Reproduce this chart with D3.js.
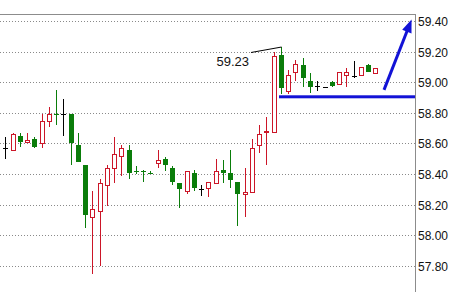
<!DOCTYPE html>
<html><head><meta charset="utf-8">
<script src="https://cdn.jsdelivr.net/npm/d3@7"></script>
<style>
html,body{margin:0;padding:0;background:#fff;}
svg{display:block;}
</style></head>
<body>
<svg id="c" width="456" height="292"></svg>
<script>
// OHLC data (one entry per candle, left to right)
const opens  = [58.57,58.56,58.65,58.61,58.63,58.60,58.75,58.79,58.79,58.79,58.59,58.46,58.12,58.16,58.33,58.44,58.52,58.56,58.42,58.42,58.41,58.47,58.50,58.44,58.34,58.29,58.41,58.30,58.31,58.34,58.43,58.41,58.35,58.27,58.28,58.59,58.675,58.675,59.18,58.94,59.07,59.11,59.01,58.975,58.97,59.00,58.99,59.05,59.04,59.05,59.11,59.06];
const closes = [58.57,58.66,58.61,58.62,58.58,58.75,58.79,58.788,58.79,58.60,58.48,58.13,58.17,58.34,58.44,58.53,58.57,58.41,58.418,58.418,58.408,58.49,58.46,58.35,58.30,58.42,58.31,58.30,58.35,58.42,58.41,58.36,58.27,58.28,58.57,58.66,58.68,59.17,58.96,59.05,59.12,59.03,58.97,58.975,58.97,58.975,59.07,59.07,59.04,59.10,59.07,59.09];
const highs  = [58.64,58.67,58.67,58.67,58.64,58.79,58.84,58.95,58.89,58.79,58.67,58.46,58.29,58.37,58.46,58.64,58.59,58.59,58.45,58.43,58.42,58.56,58.51,58.45,58.34,58.42,58.43,58.33,58.35,58.50,58.49,58.56,58.35,58.44,58.63,58.72,58.77,59.20,59.23,59.08,59.145,59.16,59.06,59.01,58.97,59.01,59.07,59.09,59.14,59.10,59.12,59.09];
const lows   = [58.50,58.55,58.58,58.60,58.57,58.57,58.71,58.72,58.65,58.46,58.48,58.05,57.75,57.80,58.19,58.34,58.39,58.37,58.40,58.35,58.40,58.44,58.42,58.33,58.18,58.27,58.29,58.26,58.25,58.34,58.34,58.31,58.06,58.12,58.28,58.54,58.46,58.675,58.92,58.92,59.01,58.97,58.93,58.94,58.97,58.97,58.99,58.97,59.03,59.05,59.07,59.06];

// axis ticks
const tickValues = [59.40,59.20,59.00,58.80,58.60,58.40,58.20,58.00,57.80];
const tickLabels = ["59.40","59.20","59.00","58.80","58.60","58.40","58.20","58.00","57.80"];

// annotations
const peakLabel = "59.23";
const peakIndex = 38;
const peakPrice = 59.23;
const supportLevel = 58.905;
const supportStartIndex = 38;
const arrowFrom = [52.2, 58.95];
const arrowTo   = [56.0, 59.41];

const W = 456, H = 292;
const plotRight = 415;
const svg = d3.select("#c");

const y = d3.scaleLinear().domain([57.80, 59.40]).range([266, 21]);
const x = d3.scaleLinear().domain([0, opens.length - 1]).range([5.3, 375.3]);

const RED = "#cc1628", GREEN = "#0a7d0a", BLUE = "#1212d6";

// grid
svg.append("g").selectAll("line").data(tickValues).join("line")
  .attr("x1", 0).attr("x2", plotRight)
  .attr("y1", d => Math.round(y(d)) + 0.5).attr("y2", d => Math.round(y(d)) + 0.5)
  .attr("stroke", "#8a8a8a").attr("stroke-width", 1).attr("stroke-dasharray", "1,2");

// frame
svg.append("line").attr("x1", 0).attr("x2", plotRight + 0.5).attr("y1", 14.5).attr("y2", 14.5)
  .attr("stroke", "#8c8c8c");
svg.append("line").attr("x1", plotRight + 0.5).attr("x2", plotRight + 0.5).attr("y1", 14).attr("y2", H)
  .attr("stroke", "#8c8c8c");

// axis via d3.axisRight
const axis = d3.axisRight(y).tickValues(tickValues)
  .tickFormat((d, i) => tickLabels[i]).tickSize(0).tickPadding(3);
const ag = svg.append("g").attr("transform", `translate(${plotRight},0)`).call(axis);
ag.select(".domain").remove();
ag.selectAll("text").attr("font-family", "Liberation Sans, Arial, sans-serif")
  .attr("font-size", 12).attr("fill", "#111").attr("dy", "0.95em").attr("dx", 0)
  .attr("transform", "translate(0,-7)");

// candles
const data = opens.map((o, i) => ({i, o, c: closes[i], h: highs[i], l: lows[i]}));
const g = svg.append("g").attr("shape-rendering", "crispEdges");
data.forEach(d => {
  const cx = Math.round(x(d.i));
  const col = d.c > d.o ? RED : (d.c < d.o ? GREEN : "#000");
  const yh = Math.round(y(d.h)), yl = Math.round(y(d.l));
  g.append("line").attr("x1", cx + 0.5).attr("x2", cx + 0.5).attr("y1", yh).attr("y2", Math.max(yl, yh + 1))
    .attr("stroke", col);
  const top = Math.round(y(Math.max(d.o, d.c))), bot = Math.round(y(Math.min(d.o, d.c)));
  if (bot - top < 1) {
    g.append("line").attr("x1", cx - 2).attr("x2", cx + 3).attr("y1", top + 0.5).attr("y2", top + 0.5)
      .attr("stroke", col);
  } else if (d.c > d.o) {
    g.append("rect").attr("x", cx - 1.5).attr("y", top + 0.5).attr("width", 4).attr("height", Math.max(bot - top, 1))
      .attr("fill", "#fff").attr("stroke", col).attr("stroke-width", 1);
  } else {
    g.append("rect").attr("x", cx - 2).attr("y", top).attr("width", 5).attr("height", Math.max(bot - top, 1))
      .attr("fill", col);
  }
});

// support line
svg.append("rect").attr("x", Math.round(x(supportStartIndex)) - 2).attr("y", y(supportLevel) - 1.5)
  .attr("width", plotRight - Math.round(x(supportStartIndex)) + 2).attr("height", 3).attr("fill", BLUE);

// arrow
const ax1 = x(arrowFrom[0]), ay1 = y(arrowFrom[1]), ax2 = x(arrowTo[0]), ay2 = y(arrowTo[1]);
const ang = Math.atan2(ay2 - ay1, ax2 - ax1);
const hl = 13, hw = 5;
const bx = ax2 - hl * Math.cos(ang), by = ay2 - hl * Math.sin(ang);
svg.append("line").attr("x1", ax1).attr("y1", ay1).attr("x2", bx + 2 * Math.cos(ang)).attr("y2", by + 2 * Math.sin(ang))
  .attr("stroke", BLUE).attr("stroke-width", 3);
svg.append("path").attr("d", d3.line()([
  [ax2, ay2],
  [bx - hw * Math.sin(ang), by + hw * Math.cos(ang)],
  [bx + hw * Math.sin(ang), by - hw * Math.cos(ang)]
]) + "Z").attr("fill", BLUE);

// peak annotation
const px = x(peakIndex), py = y(peakPrice);
svg.append("text").attr("x", 249).attr("y", 66).attr("text-anchor", "end")
  .attr("font-family", "Liberation Sans, Arial, sans-serif").attr("font-size", 13).attr("fill", "#111")
  .text(peakLabel);
svg.append("line").attr("x1", 251).attr("y1", 52.5).attr("x2", Math.round(px) + 0.5).attr("y2", py)
  .attr("stroke", "#000").attr("stroke-width", 1);
</script>
</body></html>
